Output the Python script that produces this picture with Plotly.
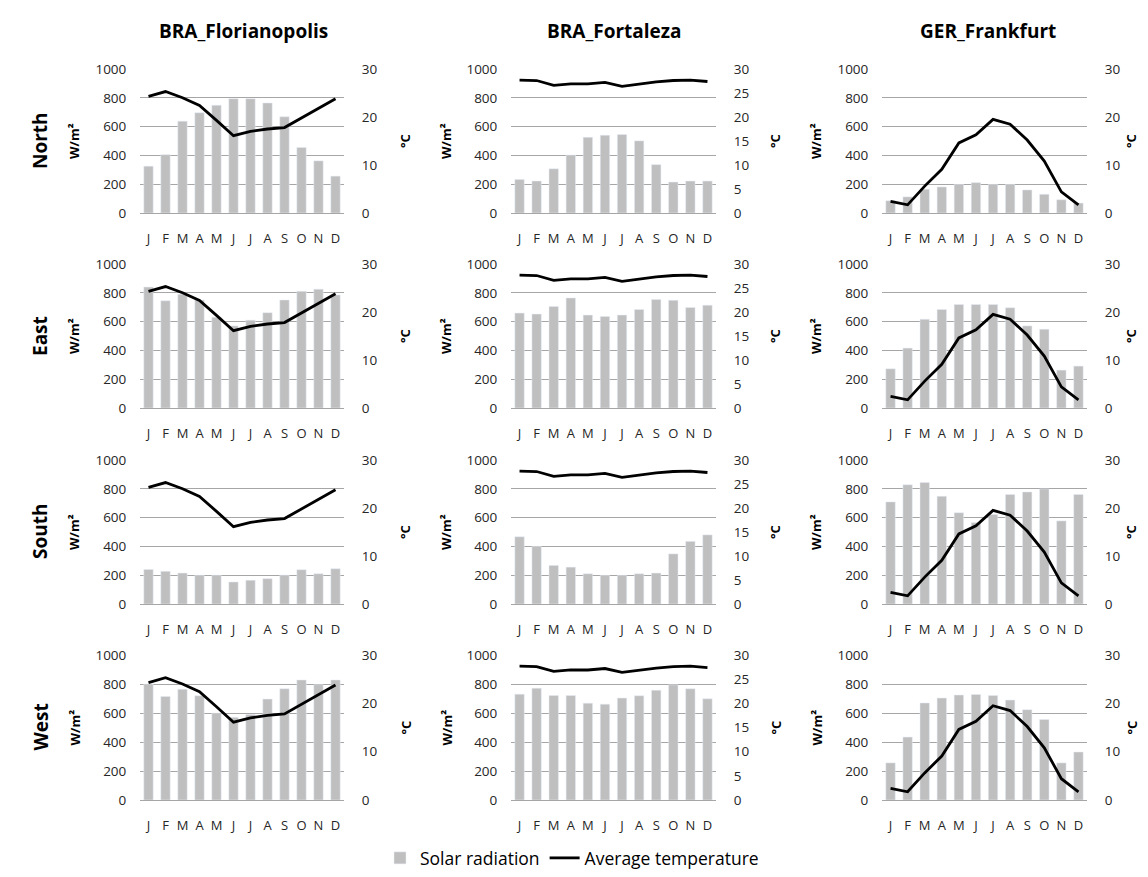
import plotly.graph_objects as go

MONTH_LABELS = ['J', 'F', 'M', 'A', 'M', 'J', 'J', 'A', 'S', 'O', 'N', 'D']
CITIES = ['BRA_Florianopolis', 'BRA_Fortaleza', 'GER_Frankfurt']
ORIENTATIONS = ['North', 'East', 'South', 'West']

# Average temperature (°C) per city
temp_florianopolis = [24.3, 25.3, 24.0, 22.4, 19.3, 16.1, 17.0, 17.5, 17.8, 19.8, 21.8, 23.8]
temp_fortaleza = [27.7, 27.6, 26.6, 26.9, 26.9, 27.2, 26.4, 26.9, 27.3, 27.6, 27.7, 27.4]
temp_frankfurt = [2.4, 1.7, 5.6, 9.1, 14.6, 16.3, 19.5, 18.5, 15.2, 10.8, 4.4, 1.7]

# Solar radiation (W/m²) per orientation and city
rad_florianopolis_north = [325, 405, 638, 696, 748, 794, 794, 764, 668, 455, 362, 256]
rad_florianopolis_east = [840, 745, 790, 750, 630, 570, 610, 662, 750, 810, 825, 785]
rad_florianopolis_south = [240, 227, 215, 200, 200, 153, 165, 176, 200, 238, 210, 245]
rad_florianopolis_west = [800, 714, 764, 719, 600, 570, 590, 696, 767, 828, 795, 828]

rad_fortaleza_north = [233, 222, 307, 403, 526, 540, 545, 501, 336, 215, 222, 222]
rad_fortaleza_east = [659, 652, 705, 764, 645, 636, 645, 684, 753, 748, 698, 714]
rad_fortaleza_south = [467, 400, 268, 256, 210, 199, 199, 210, 215, 348, 435, 480]
rad_fortaleza_west = [730, 771, 721, 721, 668, 661, 703, 719, 757, 794, 767, 698]

rad_frankfurt_north = [85, 112, 165, 181, 199, 211, 199, 199, 160, 130, 92, 69]
rad_frankfurt_east = [272, 416, 616, 684, 719, 719, 719, 696, 570, 547, 263, 291]
rad_frankfurt_south = [709, 828, 844, 748, 634, 565, 622, 760, 778, 799, 577, 760]
rad_frankfurt_west = [256, 434, 669, 703, 724, 728, 721, 689, 623, 555, 256, 331]

TEMPS = [temp_florianopolis, temp_fortaleza, temp_frankfurt]
RADS = [
    [rad_florianopolis_north, rad_fortaleza_north, rad_frankfurt_north],
    [rad_florianopolis_east, rad_fortaleza_east, rad_frankfurt_east],
    [rad_florianopolis_south, rad_fortaleza_south, rad_frankfurt_south],
    [rad_florianopolis_west, rad_fortaleza_west, rad_frankfurt_west],
]

# page body has an 8px margin; work in page pixels and convert
OFF = 8
W, H = 1148 - 2 * OFF, 877 - 2 * OFF
FONT = 'Open Sans'
TXT = '#262626'
GRID = '#a6a6a6'
BAR = '#bfbfbf'


def px(x):
    return (x - OFF) / W


def py(y):
    return 1 - (y - OFF) / H


col_x = [(140, 344), (511, 716), (882, 1087)]
row_y = [(69, 213), (264, 408), (460, 604), (655, 800)]
months_num = list(range(1, 13))

fig = go.Figure()
layout = {}
for r in range(4):
    for c in range(3):
        idx = r * 3 + c
        xn = 'x' if idx == 0 else f'x{idx + 1}'
        xk = 'xaxis' if idx == 0 else f'xaxis{idx + 1}'
        yp = 2 * idx + 1
        ys = 2 * idx + 2
        ypn = 'y' if yp == 1 else f'y{yp}'
        ypk = 'yaxis' if yp == 1 else f'yaxis{yp}'
        ysn = f'y{ys}'
        ysk = f'yaxis{ys}'
        x0, x1 = col_x[c]
        t, b = row_y[r]
        first = idx == 0
        fig.add_trace(go.Bar(x=months_num, y=RADS[r][c], marker_color=BAR,
                             xaxis=xn, yaxis=ypn, name='Solar radiation',
                             showlegend=first, legendgroup='rad'))
        fig.add_trace(go.Scatter(x=months_num, y=TEMPS[c], mode='lines',
                                 line=dict(color='black', width=2.8),
                                 xaxis=xn, yaxis=ysn, name='Average temperature',
                                 showlegend=first, legendgroup='temp'))
        layout[xk] = dict(domain=[px(x0), px(x1)], anchor=ypn, range=[0.5, 12.5],
                          tickmode='array', tickvals=months_num, ticktext=MONTH_LABELS,
                          showgrid=False, showline=True, linecolor=GRID, linewidth=1,
                          ticks='outside', ticklen=13, tickcolor='rgba(0,0,0,0)',
                          automargin=False,
                          tickfont=dict(family=FONT, size=13, color=TXT), fixedrange=True)
        layout[ypk] = dict(domain=[py(b), py(t)], anchor=xn, range=[0, 1000],
                           dtick=200, showgrid=True, gridcolor=GRID, gridwidth=1,
                           zeroline=False, ticks='outside', ticklen=10,
                           tickcolor='rgba(0,0,0,0)', automargin=False,
                           tickfont=dict(family=FONT, size=13.5, color=TXT))
        layout[ysk] = dict(overlaying=ypn, side='right', anchor=xn, range=[0, 30],
                           dtick=10 if c != 1 else 5, showgrid=False, zeroline=False,
                           ticks='outside', ticklen=14, tickcolor='rgba(0,0,0,0)',
                           automargin=False,
                           tickfont=dict(family=FONT, size=13.5, color=TXT))

annotations = []
title_x = [243, 614, 988]
for c, name in enumerate(CITIES):
    annotations.append(dict(text=f'<b>{name}</b>', x=px(title_x[c]), y=py(31),
                            xref='paper', yref='paper', showarrow=False,
                            xanchor='center', yanchor='middle',
                            font=dict(family=FONT, size=19, color='black')))
wm_x = [74, 446, 816]
dc_x = [405, 775, 1131]
for r, name in enumerate(ORIENTATIONS):
    t, b = row_y[r]
    mid = (t + b) / 2
    annotations.append(dict(text=f'<b>{name}</b>', x=px(40), y=py(mid),
                            xref='paper', yref='paper', showarrow=False, textangle=-90,
                            xanchor='center', yanchor='middle',
                            font=dict(family=FONT, size=19, color='black')))
    for c in range(3):
        annotations.append(dict(text='<b>W/m²</b>', x=px(wm_x[c]), y=py(mid),
                                xref='paper', yref='paper', showarrow=False, textangle=-90,
                                xanchor='center', yanchor='middle',
                                font=dict(family=FONT, size=13, color='black')))
        annotations.append(dict(text='<b>°C</b>', x=px(dc_x[c]), y=py(mid),
                                xref='paper', yref='paper', showarrow=False, textangle=-90,
                                xanchor='center', yanchor='middle',
                                font=dict(family=FONT, size=13, color='black')))

fig.update_layout(**layout)
fig.update_layout(
    width=W, height=H, margin=dict(l=0, r=0, t=0, b=0, autoexpand=False),
    paper_bgcolor='white', plot_bgcolor='white',
    bargap=0.45, annotations=annotations,
    legend=dict(orientation='h', x=px(572), xanchor='center', y=py(858), yanchor='middle',
                font=dict(family=FONT, size=17.5, color='black'), traceorder='normal',
                itemwidth=30),
)
fig.write_html('out.html')
